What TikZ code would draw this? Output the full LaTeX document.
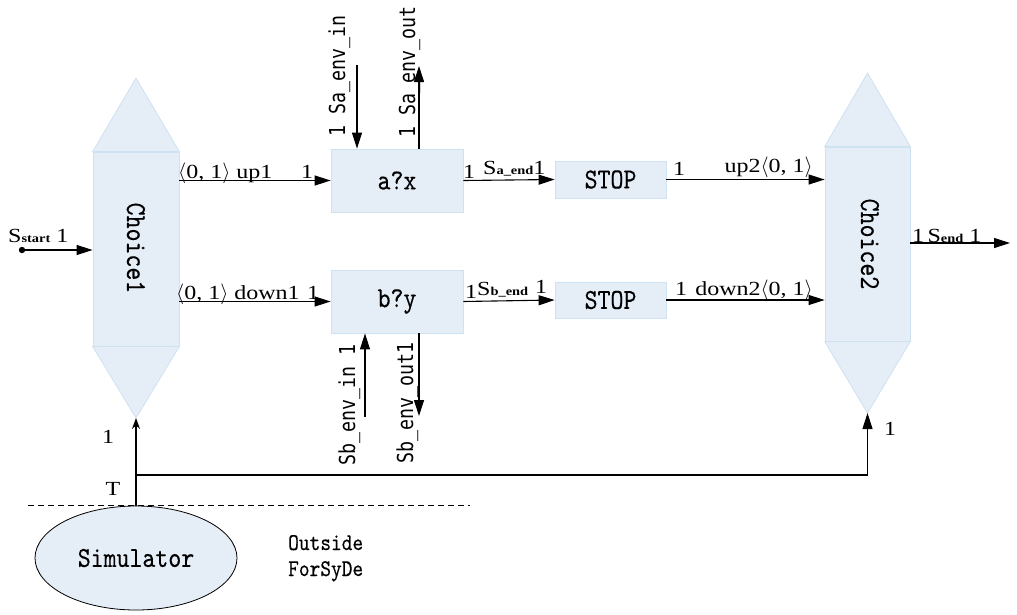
\documentclass[tikz,border=0pt]{standalone}
\usepackage{fontspec}
\setmainfont{Liberation Serif}[FakeStretch=1.2]
\newfontfamily\boxfont{lmmono10-regular}[Extension=.otf,FakeStretch=0.85,FakeBold=0.3]
\newfontfamily\envfont{DejaVu Sans Mono}[FakeStretch=0.83]
\usetikzlibrary{arrows.meta,shapes.geometric}
\definecolor{procfill}{HTML}{E5EDF7}
\definecolor{procline}{HTML}{CFE2F1}
\newcommand\lowtag[1]{{\fontsize{12}{12}\selectfont\bfseries #1}}

\begin{document}
\begin{tikzpicture}[x=1pt,y=-1pt,
  proc/.style={draw=procline, fill=procfill, line width=0.8pt, inner sep=0,
    font=\boxfont\fontsize{29}{29}\selectfont},
  capfill/.style={draw=procline, fill=procfill, line width=0.8pt},
  arr/.style={line width=1.1pt, -{Triangle[length=16pt,width=10pt]}},
  tarr/.style={line width=1.1pt, -{Stealth[length=11pt,width=8pt]}},
  lbl/.style={inner sep=0, anchor=base west, font=\fontsize{20}{20}\selectfont},
  envlbl/.style={inner sep=0, anchor=base, rotate=90,
    font=\envfont\fontsize{22}{22}\selectfont},
  vlbl/.style={inner sep=0, anchor=base, rotate=-90,
    font=\boxfont\fontsize{29}{29}\selectfont},
  monolbl/.style={inner sep=0, anchor=base west,
    font=\boxfont\fontsize{24}{24}\selectfont}]

\useasboundingbox (0,0) rectangle (1017,614);

% Choice1: body with pointed caps
\node[proc, minimum width=86pt, minimum height=194pt] (c1) at (136,249) {};
\coordinate (c1top) at (136,78);
\coordinate (c1bot) at (136,418);
\filldraw[capfill] (c1.north west) -- (c1top) -- (c1.north east) -- cycle;
\filldraw[capfill] (c1.south west) -- (c1bot) -- (c1.south east) -- cycle;
\node[vlbl] at (127,248) {Choice1};

% Choice2: body with pointed caps
\node[proc, minimum width=85pt, minimum height=194pt] (c2) at (867.5,244) {};
\coordinate (c2top) at (867.5,73);
\coordinate (c2bot) at (867.5,413);
\filldraw[capfill] (c2.north west) -- (c2top) -- (c2.north east) -- cycle;
\filldraw[capfill] (c2.south west) -- (c2bot) -- (c2.south east) -- cycle;
\node[vlbl] at (861,244) {Choice2};

% processes
\node[proc, minimum width=132pt, minimum height=63pt] (ax) at (397,180.5) {a?x};
\node[proc, minimum width=111pt, minimum height=37pt] (s1) at (610.5,179.5) {STOP};
\node[proc, minimum width=132pt, minimum height=63pt] (by) at (397,301.5) {b?y};
\node[proc, minimum width=111pt, minimum height=36pt] (s2) at (610.5,300) {STOP};

% simulator
\node[ellipse, draw=black, fill=procfill, line width=0.8pt, inner sep=0,
  minimum width=202pt, minimum height=104pt,
  font=\boxfont\fontsize{29}{29}\selectfont] (sim) at (136,558) {Simulator};

% start and end signals
\coordinate (start) at (22,250);
\fill (start) circle (3.2pt);
\draw[arr] (start) -- (c1.west |- start);
\coordinate (endp) at (1010,243);
\draw[arr] (c2.east |- endp) -- (endp);

% main signal flow
\draw[arr] (c1.east |- ax.west) -- (ax.west);
\draw[arr] (c1.east |- by.west) -- (by.west);
\draw[arr] (ax.east) -- (s1.west);
\draw[arr] (by.east) -- (s2.west);
\draw[arr] (s1.east) -- (c2.west |- s1.east);
\draw[arr] (s2.east) -- (c2.west |- s2.east);

% environment signals
\coordinate (ain) at (357,65);
\coordinate (aout) at (419,66);
\coordinate (bin) at (365,417);
\coordinate (bout) at (419,416);
\draw[arr] (ain) -- (ain |- ax.north);
\draw[arr] (aout |- ax.north) -- (aout);
\draw[arr] (bin) -- (bin |- by.south);
\draw[arr] (bout |- by.south) -- (bout);

% control from the simulator
\coordinate (tj) at (136,475);
\draw[tarr] (sim.north) -- (c1bot);
\draw[arr] (tj) -| (c2bot);
\draw[dashed, line width=0.7pt, dash pattern=on 6pt off 4pt] (28,505) -- (470,505);

% labels
\node[lbl] at (178,178) {$\langle$0, 1$\rangle$ up1};
\node[lbl] at (301,178) {1};
\node[lbl] at (176,299) {$\langle$0, 1$\rangle$ down1};
\node[lbl] at (307,299) {1};
\node[lbl] at (8,242) {S\lowtag{start} 1};
\node[lbl] at (463,178) {1};
\node[lbl] at (483,174) {S\lowtag{a\_end}1};
\node[lbl] at (465,298) {1};
\node[lbl] at (477,295) {S\lowtag{b\_end}};
\node[lbl] at (535,293) {1};
\node[lbl] at (673,175) {1};
\node[lbl, anchor=base east] at (813,172) {up2$\langle$0, 1$\rangle$};
\node[lbl] at (675,295) {1};
\node[lbl, anchor=base east] at (813,295) {down2$\langle$0, 1$\rangle$};
\node[lbl] at (912,242) {1\,S\lowtag{end} 1};
\node[lbl, anchor=center] at (108,437) {1};
\node[lbl, anchor=center] at (113,489) {T};
\node[lbl, anchor=center] at (890,429) {1};

\node[envlbl] at (345,76) {1 Sa\_env\_in};
\node[envlbl] at (415,72) {1 Sa\_env\_out};
\node[envlbl] at (355,405) {Sb\_env\_in 1};
\node[envlbl] at (413,403) {Sb\_env\_out1};

\node[monolbl] at (288,550) {Outside};
\node[monolbl] at (288,576) {ForSyDe};
\end{tikzpicture}
\end{document}
